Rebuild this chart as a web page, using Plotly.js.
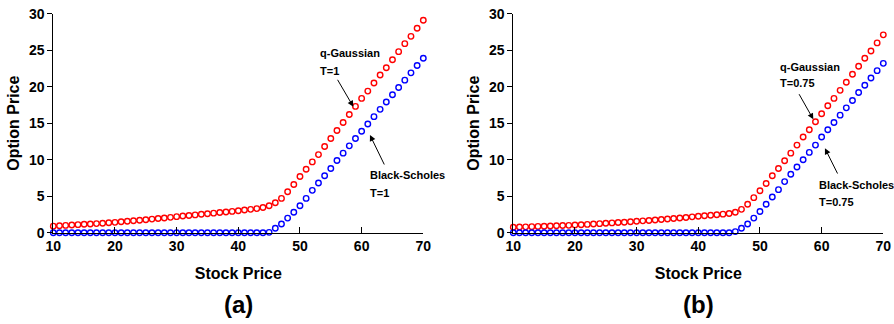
<!DOCTYPE html>
<html>
<head>
<meta charset="utf-8">
<script src="https://cdn.plot.ly/plotly-3.0.1.min.js"></script>
<style>html,body{margin:0;padding:0;background:#fff}#chart{width:894px;height:324px}</style>
</head>
<body>
<div id="chart"></div>
<script>
// Stock prices (x), 10..70 in steps of 1
const stockPrice = [10,11,12,13,14,15,16,17,18,19,20,21,22,23,24,25,26,27,28,29,30,31,32,33,34,35,36,37,38,39,40,41,42,43,44,45,46,47,48,49,50,51,52,53,54,55,56,57,58,59,60,61,62,63,64,65,66,67,68,69,70];

// Panel (a), T = 1
const qGaussianA = [0.90,0.95,1.00,1.05,1.10,1.15,1.20,1.25,1.30,1.36,1.42,1.49,1.56,1.63,1.70,1.78,1.86,1.94,2.02,2.10,2.20,2.28,2.36,2.44,2.52,2.60,2.68,2.76,2.84,2.92,3.00,3.10,3.20,3.30,3.45,3.70,4.10,4.70,5.60,6.60,7.70,8.70,9.70,10.70,11.80,12.90,14.00,15.10,16.20,17.30,18.40,19.40,20.50,21.60,22.60,23.70,24.80,25.90,26.90,28.00,29.10];
const blackScholesA = [0,0,0,0,0,0,0,0,0,0,0,0,0,0,0,0,0,0,0,0,0,0,0,0,0,0,0,0,0,0,0,0,0,0,0,0.05,0.60,1.20,2.00,2.80,3.70,4.70,5.80,6.80,7.80,8.80,9.90,10.90,11.90,12.90,13.90,14.90,15.90,16.90,17.90,18.90,19.90,20.90,21.90,22.90,23.90];

// Panel (b), T = 0.75
const qGaussianB = [0.75,0.78,0.80,0.83,0.86,0.89,0.92,0.95,0.98,1.01,1.05,1.09,1.14,1.19,1.24,1.29,1.34,1.39,1.44,1.50,1.56,1.62,1.68,1.74,1.81,1.88,1.95,2.02,2.09,2.17,2.25,2.32,2.39,2.46,2.54,2.63,2.80,3.20,3.90,4.80,5.75,6.75,7.80,8.80,9.85,10.90,12.00,13.10,14.10,15.20,16.30,17.40,18.40,19.50,20.60,21.70,22.80,23.90,24.90,26.00,27.10];
const blackScholesB = [0,0,0,0,0,0,0,0,0,0,0,0,0,0,0,0,0,0,0,0,0,0,0,0,0,0,0,0,0,0,0,0,0,0,0,0,0.15,0.60,1.20,2.00,2.90,3.90,4.90,5.90,7.00,8.00,9.00,10.00,11.00,12.00,13.10,14.10,15.10,16.10,17.10,18.10,19.20,20.20,21.20,22.20,23.20];

const xTicks = [10,20,30,40,50,60,70];
const yTicks = [0,5,10,15,20,25,30];
const panelLabels = ['(a)', '(b)'];
const timeLabels = ['T=1', 'T=0.75'];

const FONT = 'Liberation Sans, Arial, Helvetica, sans-serif';

function series(x, y, color, xa, ya, name) {
  return {
    x: x, y: y, xaxis: xa, yaxis: ya, name: name,
    type: 'scatter', mode: 'markers', cliponaxis: false,
    marker: {symbol: 'circle-open', size: 5.5, color: color, line: {color: color, width: 1.4}},
    showlegend: false, hoverinfo: 'x+y'
  };
}

const data = [
  series(stockPrice, qGaussianA, '#ff0000', 'x', 'y', 'q-Gaussian'),
  series(stockPrice, blackScholesA, '#0000ff', 'x', 'y', 'Black-Scholes'),
  series(stockPrice, qGaussianB, '#ff0000', 'x2', 'y2', 'q-Gaussian'),
  series(stockPrice, blackScholesB, '#0000ff', 'x2', 'y2', 'Black-Scholes')
];

function xaxisDef(domain, anchor) {
  return {
    domain: domain, anchor: anchor, range: [10, 70],
    tickmode: 'array', tickvals: xTicks, ticktext: xTicks.map(String),
    ticks: 'inside', ticklen: 6, tickcolor: '#000', tickwidth: 1,
    showline: true, linecolor: '#000', linewidth: 1, mirror: false,
    showgrid: false, zeroline: false,
    tickfont: {family: FONT, size: 14, color: '#000', weight: 'bold'},
    title: {text: 'Stock Price', font: {family: FONT, size: 16, color: '#000', weight: 'bold'}, standoff: 15}
  };
}
function yaxisDef(domain, anchor) {
  return {
    domain: domain, anchor: anchor, range: [0, 30],
    tickmode: 'array', tickvals: yTicks, ticktext: yTicks.map(String),
    ticks: 'outside', ticklen: 5, tickcolor: '#000', tickwidth: 1,
    showline: true, linecolor: '#000', linewidth: 1, mirror: false,
    showgrid: false, zeroline: false,
    tickfont: {family: FONT, size: 14, color: '#000', weight: 'bold'},
    title: {text: 'Option Price', font: {family: FONT, size: 16, color: '#000', weight: 'bold'}, standoff: 5}
  };
}

const annFont = {family: FONT, size: 11, color: '#000', weight: 'bold'};
function label(text, x, y, xr, yr) {
  return {text: text, x: x, y: y, xref: xr, yref: yr, xanchor: 'left', yanchor: 'middle', showarrow: false, font: annFont};
}
function arrow(hx, hy, tx, ty, xr, yr) {
  return {text: '', x: hx, y: hy, ax: tx, ay: ty, xref: xr, yref: yr, axref: xr, ayref: yr,
          showarrow: true, arrowhead: 2, arrowsize: 1.2, arrowwidth: 1, arrowcolor: '#000', standoff: 0, startstandoff: 0};
}

const annotations = [
  label('q-Gaussian', 52.97, 24.66, 'x', 'y'),
  label(timeLabels[0], 52.97, 22.19, 'x', 'y'),
  arrow(58.65, 17.26, 55.96, 21.15, 'x', 'y'),
  label('Black-Scholes', 61.08, 7.9, 'x', 'y'),
  label(timeLabels[0], 61.08, 5.48, 'x', 'y'),
  arrow(61.35, 13.38, 63.79, 9.14, 'x', 'y'),

  label('q-Gaussian', 52.97, 22.74, 'x2', 'y2'),
  label(timeLabels[1], 52.97, 20.55, 'x2', 'y2'),
  arrow(58.65, 15.53, 56.21, 19.18, 'x2', 'y2'),
  label('Black-Scholes', 59.2, 6.53, 'x2', 'y2'),
  label(timeLabels[1], 59.2, 4.16, 'x2', 'y2'),
  arrow(60.54, 11.56, 62.7, 7.9, 'x2', 'y2'),

  {text: panelLabels[0], x: 238.3/894, y: 1 - 304/324, xref: 'paper', yref: 'paper', xanchor: 'center', yanchor: 'middle', showarrow: false,
   font: {family: FONT, size: 24, color: '#000', weight: 'bold'}},
  {text: panelLabels[1], x: 698.3/894, y: 1 - 304/324, xref: 'paper', yref: 'paper', xanchor: 'center', yanchor: 'middle', showarrow: false,
   font: {family: FONT, size: 24, color: '#000', weight: 'bold'}}
];

const yDomain = [1 - 232.7/324, 1 - 13.7/324];
const layout = {
  width: 894, height: 324,
  margin: {l: 0, r: 0, t: 0, b: 0},
  paper_bgcolor: '#fff', plot_bgcolor: '#fff',
  showlegend: false,
  xaxis: xaxisDef([53.3/894, 423.3/894], 'y'),
  yaxis: yaxisDef(yDomain, 'x'),
  xaxis2: xaxisDef([513.3/894, 883.3/894], 'y2'),
  yaxis2: yaxisDef(yDomain, 'x2'),
  annotations: annotations,
  font: {family: FONT, color: '#000'}
};

Plotly.newPlot('chart', data, layout, {displayModeBar: false, responsive: false});
</script>
</body>
</html>
